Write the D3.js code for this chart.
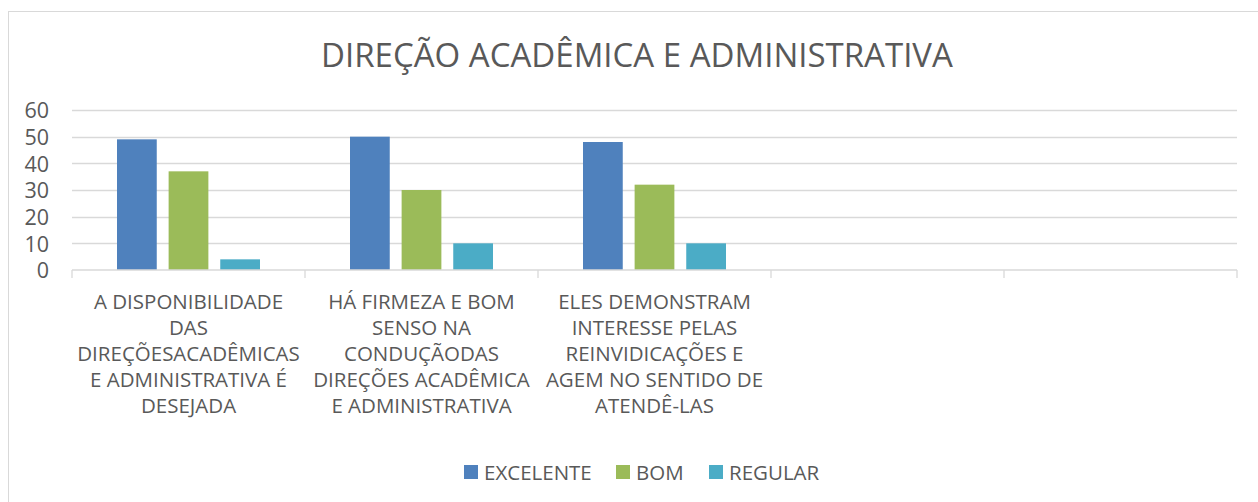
<!DOCTYPE html>
<html lang="pt">
<head>
    <meta charset="UTF-8">
    <title>Direção Acadêmica e Administrativa</title>
    <script src="https://d3js.org/d3.v7.min.js"></script>
    <style>
        body { margin: 0; background: #fff; }
        text { font-family: "Open Sans", "Noto Sans", sans-serif; fill: #595959; }
    </style>
</head>
<body>
    <svg id="chart" width="1258" height="502"></svg>
    <script>
        // data
        const categories = [
            ['A DISPONIBILIDADE', 'DAS', 'DIREÇÕESACADÊMICAS', 'E ADMINISTRATIVA É', 'DESEJADA'],
            ['HÁ FIRMEZA E BOM', 'SENSO NA', 'CONDUÇÃODAS', 'DIREÇÕES ACADÊMICA', 'E ADMINISTRATIVA'],
            ['ELES DEMONSTRAM', 'INTERESSE PELAS', 'REINVIDICAÇÕES E', 'AGEM NO SENTIDO DE', 'ATENDÊ-LAS'],
            [],
            []
        ];
        const seriesNames = ['EXCELENTE', 'BOM', 'REGULAR'];
        const excelente = [49, 50, 48, null, null];
        const bom = [37, 30, 32, null, null];
        const regular = [4, 10, 10, null, null];
        const yTicks = [0, 10, 20, 30, 40, 50, 60];
        const colors = ['#4F81BD', '#9BBB59', '#4BACC6'];

        const svg = d3.select('#chart');
        const margin = { left: 72, right: 21, top: 110, bottom: 232 };
        const W = 1258, H = 502;

        // chart border
        svg.append('rect')
            .attr('x', 8.5).attr('y', 11.5)
            .attr('width', 1270).attr('height', 520)
            .attr('fill', 'none').attr('stroke', '#d9d9d9');

        svg.append('text')
            .attr('x', 637).attr('y', 67)
            .attr('text-anchor', 'middle')
            .style('font-size', '33px')
            .text('DIREÇÃO ACADÊMICA E ADMINISTRATIVA');

        const idx = categories.map((c, i) => i);
        const x = d3.scaleBand()
            .domain(idx)
            .range([margin.left, W - margin.right]);

        const y = d3.scaleLinear()
            .domain([0, 60])
            .range([H - margin.bottom, margin.top]);

        // gridlines
        svg.append('g')
            .selectAll('line')
            .data(yTicks.filter(d => d > 0))
            .join('line')
            .attr('x1', margin.left).attr('x2', W - margin.right)
            .attr('y1', d => Math.round(y(d)) + 0.5).attr('y2', d => Math.round(y(d)) + 0.5)
            .attr('stroke', '#d9d9d9').attr('stroke-width', 1.3);

        // y axis labels
        const yAxis = svg.append('g')
            .attr('transform', `translate(${margin.left - 10},0)`)
            .call(d3.axisLeft(y).tickValues(yTicks).tickSize(0).tickPadding(13));
        yAxis.select('.domain').remove();
        yAxis.selectAll('text')
            .style('font-size', '21.5px')
            .attr('dy', '0.36em');

        // bars
        const series = [excelente, bom, regular];
        const inner = d3.scaleBand()
            .domain(d3.range(series.length))
            .range([45, 188])
            .paddingInner(0.23);

        series.forEach((vals, s) => {
            svg.append('g')
                .selectAll('rect')
                .data(vals.map((v, i) => ({ v, i })).filter(d => d.v != null))
                .join('rect')
                .attr('x', d => x(d.i) + inner(s))
                .attr('width', inner.bandwidth())
                .attr('y', d => y(d.v))
                .attr('height', d => y(0) - y(d.v))
                .attr('fill', colors[s]);
        });

        // x axis line with ticks between categories
        const xAxis = svg.append('g')
            .attr('transform', `translate(0,${y(0)})`);
        xAxis.append('line')
            .attr('x1', margin.left).attr('x2', W - margin.right)
            .attr('stroke', '#d9d9d9').attr('stroke-width', 1.3);
        xAxis.selectAll('.tick')
            .data(idx.concat([idx.length]))
            .join('line')
            .attr('x1', d => d < idx.length ? x(d) : W - margin.right)
            .attr('x2', d => d < idx.length ? x(d) : W - margin.right)
            .attr('y1', 0).attr('y2', 8)
            .attr('stroke', '#d9d9d9').attr('stroke-width', 1.3);

        // category labels
        const labels = svg.append('g')
            .selectAll('text')
            .data(categories.map((lines, i) => ({ lines, i })))
            .join('text')
            .attr('text-anchor', 'middle')
            .style('font-size', '20.5px');
        labels.selectAll('tspan')
            .data(d => d.lines.map((t, k) => ({ t, k, i: d.i })))
            .join('tspan')
            .attr('x', d => x(d.i) + x.bandwidth() / 2)
            .attr('y', d => 309 + d.k * 26)
            .text(d => d.t);

        // legend
        const legendX = [464, 616, 709];
        const legend = svg.append('g')
            .selectAll('g')
            .data(seriesNames)
            .join('g')
            .attr('transform', (d, i) => `translate(${legendX[i]},465)`);
        legend.append('rect')
            .attr('width', 14).attr('height', 14)
            .attr('fill', (d, i) => colors[i]);
        legend.append('text')
            .attr('x', 20).attr('y', 14.5)
            .style('font-size', '20.5px')
            .text(d => d);
    </script>
</body>
</html>
